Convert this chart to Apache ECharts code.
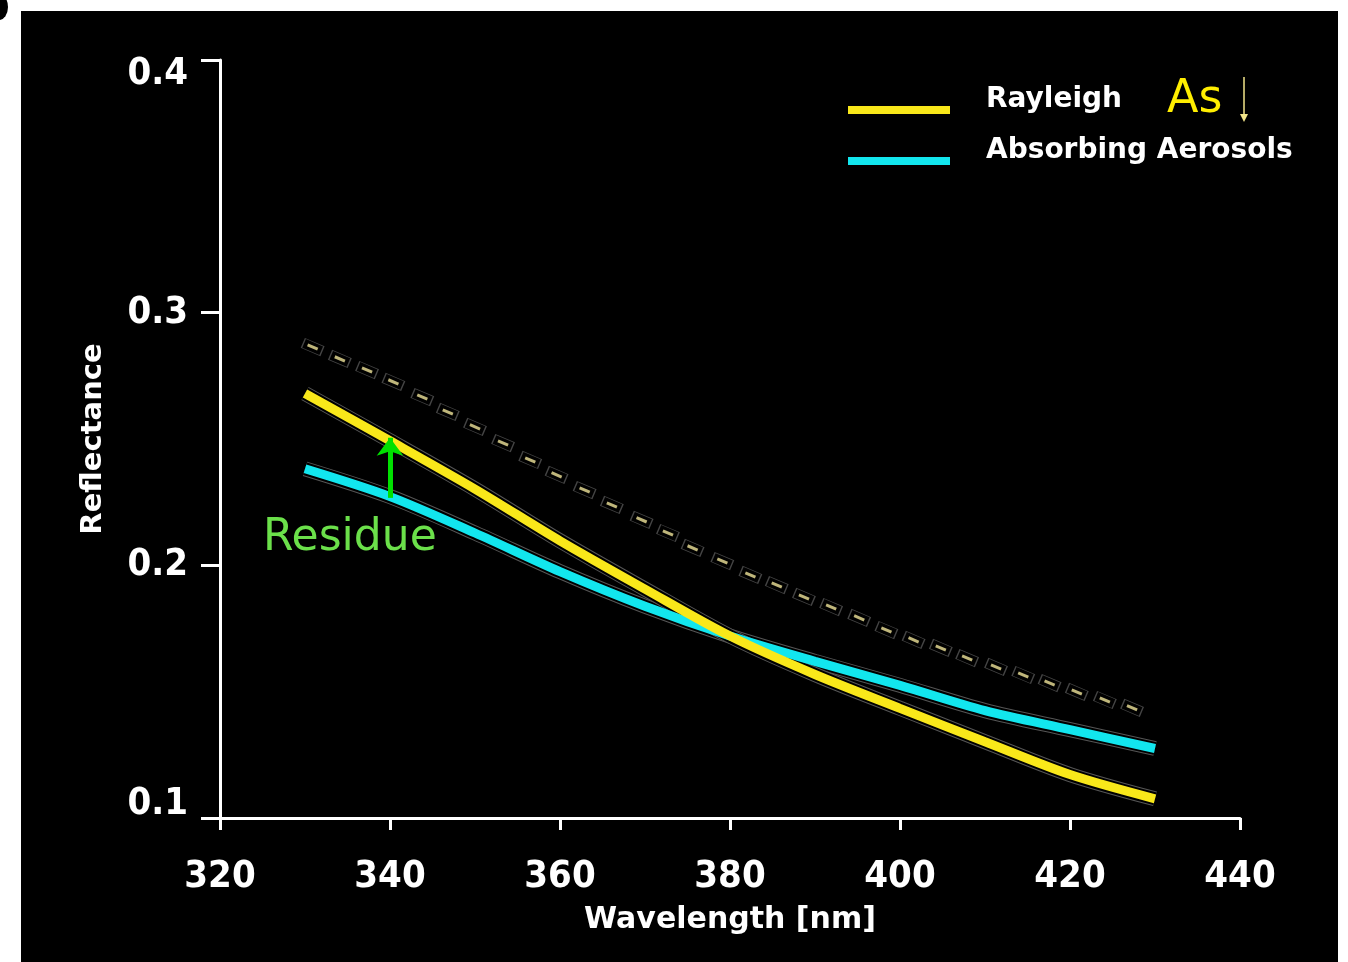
<!DOCTYPE html>
<html>
<head>
<meta charset="utf-8">
<title>Reflectance vs Wavelength</title>
<script src="https://cdn.jsdelivr.net/npm/echarts@6/dist/echarts.min.js"></script>
<style>
  html, body { margin: 0; padding: 0; background: #fff; overflow: hidden; }
  #chart { position: absolute; left: 21px; top: 11px; width: 1317px; height: 951px; background: #000; }
  #dot { position: absolute; left: -10px; top: -6px; width: 18px; height: 26px; border-radius: 50%; background: #000; }
</style>
</head>
<body>
<div id="dot"></div>
<div id="chart"></div>
<script>
// curves (model), every 10 nm
const wavelengths = [330, 340, 350, 360, 370, 380, 390, 400, 410, 420, 430];
const rayleigh = [0.268, 0.2493, 0.2302, 0.2097, 0.1906, 0.1720, 0.1568, 0.1434, 0.1302, 0.1172, 0.1076];
const aerosols = [0.2382, 0.2272, 0.2128, 0.1975, 0.1838, 0.1720, 0.1620, 0.1525, 0.1425, 0.1350, 0.1275];

// measured points (short dashes)
const measuredWl = [330.9, 334.1, 337.3, 340.4, 343.8, 346.8, 350.0, 353.3, 356.5, 359.6,
  362.9, 366.1, 369.6, 372.7, 375.6, 379.1, 382.4, 385.5, 388.7, 391.9,
  395.2, 398.4, 401.6, 404.8, 407.9, 411.3, 414.5, 417.6, 420.8, 424.1, 427.3];
const measured = [0.2864, 0.2817, 0.2773, 0.2726, 0.2666, 0.2607, 0.2548, 0.2484, 0.2417, 0.2358,
  0.2298, 0.2239, 0.2180, 0.2128, 0.2069, 0.2017, 0.1962, 0.1922, 0.1875, 0.1835,
  0.1792, 0.1744, 0.1705, 0.1673, 0.1633, 0.1598, 0.1566, 0.1534, 0.1499, 0.1467, 0.1436];

// residue arrow: from aerosol curve up to rayleigh curve at 340 nm
const residueWl = 340;
const residueFrom = 0.2267;
const residueTo = 0.2505;

const xTicks = [320, 340, 360, 380, 400, 420, 440];
const yTicks = [0.1, 0.2, 0.3, 0.4];

const YELLOW = '#f9e81a';
const CYAN = '#12e6ee';
const FONT = 'DejaVu Sans';
// legend swatch sits low in its box so the label reads a bit above it
const SWATCH = 'path://M0,0L0.01,0L0,0.01Z M0,20L102,20L102,28L0,28Z';

function pairs(xs, ys) {
  return xs.map((x, i) => [x, ys[i]]);
}

function halo(name, data, color, width) {
  return {
    name: name,
    type: 'line',
    data: data,
    smooth: 0.3,
    showSymbol: false,
    silent: true,
    lineStyle: { color: color, width: width, cap: 'butt' }
  };
}

const chart = echarts.init(document.getElementById('chart'));
const rayData = pairs(wavelengths, rayleigh);
const aerData = pairs(wavelengths, aerosols);
const measData = pairs(measuredWl, measured);

chart.setOption({
  animation: false,
  backgroundColor: '#000',
  grid: { left: 199, right: 98, top: 49, bottom: 144 },
  legend: {
    data: ['Rayleigh', 'Absorbing Aerosols'],
    orient: 'vertical',
    left: 822,
    top: 67,
    icon: SWATCH,
    itemWidth: 102,
    itemHeight: 28,
    itemGap: 17,
    textStyle: {
      color: '#fff', fontFamily: FONT, fontWeight: 'bold', fontSize: 28,
      lineHeight: 30, padding: [4, 0, 0, 31]
    }
  },
  xAxis: {
    type: 'value',
    min: 320, max: 440, interval: 20,
    name: 'Wavelength [nm]',
    nameLocation: 'middle',
    nameGap: 87,
    nameTextStyle: { color: '#fff', fontFamily: FONT, fontWeight: 'bold', fontSize: 30 },
    axisLine: { show: true, lineStyle: { color: '#fff', width: 3 } },
    axisTick: { show: true, length: 12, lineStyle: { color: '#fff', width: 3 } },
    axisLabel: {
      color: '#fff', fontFamily: 'DejaVu Sans Condensed', fontWeight: 'bold', fontSize: 38, margin: 40,
      formatter: v => xTicks.includes(v) ? String(v) : ''
    },
    splitLine: { show: false }
  },
  yAxis: {
    type: 'value',
    min: 0.1, max: 0.4, interval: 0.1,
    name: 'Reflectance',
    nameLocation: 'middle',
    nameGap: 112,
    nameTextStyle: { color: '#fff', fontFamily: FONT, fontWeight: 'bold', fontSize: 29 },
    axisLine: { show: true, lineStyle: { color: '#fff', width: 3 } },
    axisTick: { show: true, length: 19, lineStyle: { color: '#fff', width: 3 } },
    axisLabel: {
      color: '#fff', fontFamily: 'DejaVu Sans Condensed', fontWeight: 'bold', fontSize: 38, margin: 32,
      lineHeight: 28,
      verticalAlignMaxLabel: 'top',
      verticalAlignMinLabel: 'bottom',
      formatter: v => {
        const t = yTicks.find(k => Math.abs(k - v) < 1e-9);
        return t === undefined ? '' : t.toFixed(1);
      }
    },
    splitLine: { show: false }
  },
  series: [
    {
      name: 'measured halo',
      type: 'scatter',
      data: measData,
      symbol: 'rect',
      symbolSize: [20, 10],
      symbolRotate: -23,
      silent: true,
      itemStyle: { color: 'rgba(0,0,0,0)', borderColor: '#555', borderWidth: 1 }
    },
    {
      name: 'measured',
      type: 'scatter',
      data: measData,
      symbol: 'rect',
      symbolSize: [11, 3],
      symbolRotate: -23,
      silent: true,
      itemStyle: { color: '#efe49a' }
    },
    halo('aer halo', aerData, '#555', 15),
    halo('aer gap', aerData, '#000', 13),
    halo('ray halo', rayData, '#555', 15),
    halo('ray gap', rayData, '#000', 13),
    {
      name: 'Absorbing Aerosols',
      type: 'line',
      data: aerData,
      smooth: 0.3,
      showSymbol: false,
      color: CYAN,
      lineStyle: { color: CYAN, width: 9, cap: 'butt' }
    },
    {
      name: 'Rayleigh',
      type: 'line',
      data: rayData,
      smooth: 0.3,
      showSymbol: false,
      color: YELLOW,
      lineStyle: { color: YELLOW, width: 9, cap: 'butt' },
      markLine: {
        silent: true,
        symbol: ['none', 'arrow'],
        symbolSize: [20, 18],
        label: { show: false },
        lineStyle: { color: '#00e000', width: 5, type: 'solid' },
        data: [[{ coord: [residueWl, residueFrom] }, { coord: [residueWl, residueTo] }]]
      }
    }
  ],
  graphic: [
    {
      type: 'text',
      left: 242,
      top: 506,
      style: { text: 'Residue', fill: '#6be04a', font: '44px "DejaVu Sans"' }
    },
    {
      type: 'text',
      left: 1146,
      top: 66,
      style: { text: 'As', fill: '#ffee00', font: '46px "DejaVu Sans"' }
    },
    {
      type: 'line',
      shape: { x1: 1223, y1: 66, x2: 1223, y2: 106 },
      style: { stroke: '#f2e58a', lineWidth: 1.5 }
    },
    {
      type: 'polygon',
      shape: { points: [[1219, 103], [1227, 103], [1223, 111]] },
      style: { fill: '#f2e58a' }
    }
  ]
});
</script>
</body>
</html>
